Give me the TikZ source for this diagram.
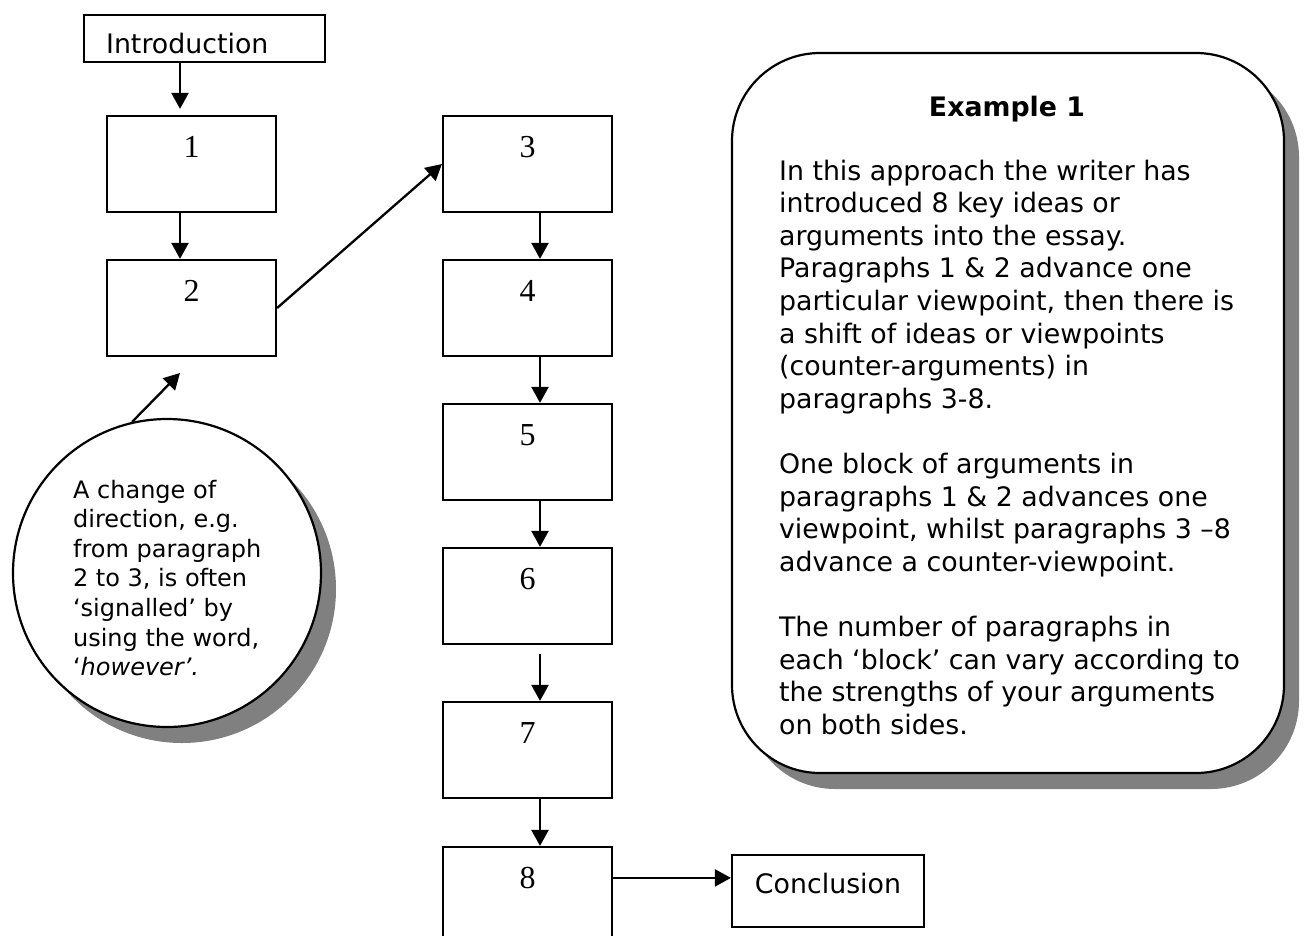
\documentclass[tikz,border=0pt]{standalone}
\usepackage{fontspec}
\setmainfont{DejaVu Sans}[ItalicFont=DejaVu Sans Oblique, BoldFont=DejaVu Sans Bold]
\newfontfamily\numfont{Liberation Serif}
\usetikzlibrary{arrows.meta,shadows}
\definecolor{shade}{HTML}{808080}

\begin{document}
\begin{tikzpicture}[x=1pt, y=-1pt, line width=2.2pt,
  arr/.style={-{Triangle[length=16pt,width=17pt]}, line width=2.3pt},
  stepbox/.style={draw, rectangle, minimum width=169pt, inner sep=0pt,
    text height=41pt, text depth=55pt, anchor=base,
    font=\numfont\fontsize{32}{38}\selectfont},
  labelbox/.style={draw, rectangle, inner ysep=0pt, anchor=base,
    font=\fontsize{26.8}{32.6}\selectfont},
  shadowed/.style={general shadow={shadow xshift=15pt, shadow yshift=-16pt, fill=shade}},
  bodytext/.style={anchor=north west, inner sep=0pt, align=left}
]
% page
\path[use as bounding box, fill=white] (0,0) rectangle (1306,935);

% start and end boxes
\node[labelbox, inner xsep=22pt, text height=38pt, text depth=9pt, anchor=base west]
  (intro) at (83,53) {\makebox[197pt][l]{Introduction}};
\node[labelbox, inner xsep=0pt, minimum width=192pt, text height=38pt, text depth=34pt]
  (concl) at (828,893) {Conclusion};

% paragraph boxes
\node[stepbox] (b1) at (191.5,157) {1};
\node[stepbox] (b2) at (191.5,301) {2};
\node[stepbox] (b3) at (527.5,157) {3};
\node[stepbox] (b4) at (527.5,301) {4};
\node[stepbox] (b5) at (527.5,445) {5};
\node[stepbox] (b6) at (527.5,589) {6};
\node[stepbox] (b7) at (527.5,743) {7};
\node[stepbox, text depth=62pt] (b8) at (527.5,888) {8};

% flow of the paragraphs
\coordinate (in1) at ([xshift=-11.5pt,yshift=6pt]b1.north);
\draw[arr] (in1 |- intro.south) -- (in1);
\draw[arr] ([xshift=-11.5pt]b1.south) -- ([xshift=-11.5pt]b2.north);
\draw[arr] (b2.east) -- (b3.west);
\draw[arr] ([xshift=12.5pt]b3.south) -- ([xshift=12.5pt]b4.north);
\draw[arr] ([xshift=12.5pt]b4.south) -- ([xshift=12.5pt]b5.north);
\draw[arr] ([xshift=12.5pt]b5.south) -- ([xshift=12.5pt]b6.north);
\draw[arr] ([xshift=12.5pt,yshift=-9pt]b6.south) -- ([xshift=12.5pt]b7.north);
\draw[arr] ([xshift=12.5pt]b7.south) -- ([xshift=12.5pt]b8.north);
\coordinate (out8) at ([yshift=-32pt]b8.north east);
\draw[arr] (out8) -- (out8 -| concl.west);

% note on the change of direction
\node[draw, circle, fill=white, minimum size=308pt, inner sep=0pt, shadowed] (circ) at (167,573) {};
\node[bodytext, font=\fontsize{24}{29.6}\selectfont] (note) at (72,476.28)
  {\strut A change of\\direction, e.g.\\from paragraph\\2 to 3, is often\\‘signalled’ by\\using the word,\\‘\textit{however’.}};
\coordinate (aim) at (180,373);
\draw[arr] (circ.103) -- (aim);

% explanation panel
\node[draw, fill=white, rounded corners=88pt, minimum width=552pt, minimum height=720pt,
  inner sep=0pt, shadowed] (panel) at (1008,413) {};
\node[anchor=base, inner sep=0pt, font=\bfseries\fontsize{26.8}{32.6}\selectfont] (title) at (1007,116) {Example 1};
\node[bodytext, font=\fontsize{26.8}{32.6}\selectfont] (body) at (778,156.18)
  {\strut In this approach the writer has\\
   introduced 8 key ideas or\\
   arguments into the essay.\\
   Paragraphs 1 \& 2 advance one\\
   particular viewpoint, then there is\\
   a shift of ideas or viewpoints\\
   (counter-arguments) in\\
   paragraphs 3-8.\\[32.6pt]
   One block of arguments in\\
   paragraphs 1 \& 2 advances one\\
   viewpoint, whilst paragraphs 3 –8\\
   advance a counter-viewpoint.\\[32.6pt]
   The number of paragraphs in\\
   each ‘block’ can vary according to\\
   the strengths of your arguments\\
   on both sides.};
\end{tikzpicture}
\end{document}
